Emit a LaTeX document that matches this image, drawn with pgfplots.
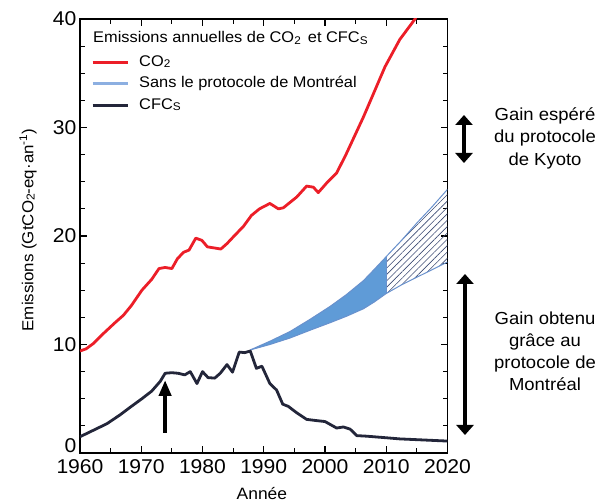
\documentclass[border=0pt]{standalone}
\usepackage{fontspec}
\setmainfont{Liberation Sans}[FakeStretch=1.06]
\usepackage{graphicx}
\usepackage{pgfplots}
\pgfplotsset{compat=1.18}
\usetikzlibrary{arrows.meta,patterns.meta}

\definecolor{co2red}{RGB}{236,30,40}
\definecolor{cfcnavy}{RGB}{35,38,58}
\definecolor{bandblue}{RGB}{95,155,215}
\definecolor{bandline}{RGB}{105,145,205}
\definecolor{legblue}{RGB}{140,175,225}
\definecolor{hatchc}{RGB}{60,75,115}

\newcommand\sub[1]{\raisebox{-0.15ex}{\scalebox{0.72}{#1}}}

\begin{document}
\begin{tikzpicture}
\begin{axis}[
 scale only axis, width=367.5bp, height=434bp,
 xmin=1960, xmax=2020, ymin=0, ymax=40,
 xtick={1960,1970,...,2020}, ytick={0,10,20,30,40},
 yticklabels={\raisebox{1bp}[0pt][0pt]{0},10,20,30,40},
 minor x tick num=1, minor y tick num=3,
 tick align=inside,
 major tick length=7bp, minor tick length=5bp,
 every tick/.style={line width=1.2bp, black},
 axis line style={line width=1.5bp, black},
 /pgf/number format/assume math mode=true,
 /pgf/number format/1000 sep={},
 ticklabel style={font=\fontsize{20}{22}\selectfont},
 xticklabel style={yshift=-3bp},
 xlabel={Année},
 ylabel={Emissions (GtCO\sub{2}-eq·an\textsuperscript{-1})},
 xlabel style={font=\fontsize{16.5}{18}\selectfont, at={(axis description cs:0.495,-0.094)}, anchor=center},
 ylabel style={font=\fontsize{16}{18}\selectfont, at={(axis description cs:-0.1415,0.514)}, anchor=center},
 legend image code/.code={\draw[#1] (0bp,0bp) -- (35bp,0bp);},
 legend cell align=left,
 legend style={at={(rel axis cs:0.030,0.922)}, anchor=north west, draw=none, fill=none,
   inner sep=0pt, column sep=8bp, row sep=3bp,
   font=\fontsize{15.5}{17}\selectfont,
   nodes={inner sep=2bp, text height=11bp, text depth=3.5bp}},
]
% solid band (without Montreal protocol), 1987.8-2010
\addplot[forget plot, draw=none, fill=bandblue] coordinates {
 (1987.8,9.5) (1991,10.3) (1994.3,11.2) (1997.5,12.3) (2000.8,13.5) (2003.5,14.6) (2006.3,15.9) (2008,16.9) (2010,18.1)
 (2010,14.7) (2008,13.9) (2006.3,13.3) (2003.5,12.6) (2000.8,12.0) (1997.5,11.3) (1994.3,10.6) (1991,10.0) (1987.8,9.5)
} -- cycle;
% hatched band 2010-2020
\addplot[forget plot, draw=none, pattern={Lines[angle=45,distance=4.5bp,line width=0.6bp]}, pattern color=hatchc] coordinates {
 (2010,18.1) (2012.5,19.6) (2015,21.2) (2017.5,22.7) (2020,24.3)
 (2020,17.6) (2017.5,16.9) (2015,16.2) (2012.5,15.5) (2010,14.7)
} -- cycle;
% band outlines
\addplot[forget plot, bandline, line width=1bp] coordinates {
 (1987.8,9.5) (1991,10.3) (1994.3,11.2) (1997.5,12.3) (2000.8,13.5) (2003.5,14.6) (2006.3,15.9) (2008,16.9) (2010,18.1) (2012.5,19.6) (2015,21.2) (2017.5,22.7) (2020,24.3)};
\addplot[forget plot, bandline, line width=1bp] coordinates {
 (1987.8,9.5) (1991,10.0) (1994.3,10.6) (1997.5,11.3) (2000.8,12.0) (2003.5,12.6) (2006.3,13.3) (2008,13.9) (2010,14.7) (2012.5,15.5) (2015,16.2) (2017.5,16.9) (2020,17.6)};
\addplot[forget plot, bandline, line width=1bp] coordinates {(2010,14.7) (2010,18.1)};
% CO2
\addplot[forget plot, co2red, line width=2.8bp, line join=round] coordinates {
 (1960,9.4) (1961,9.6) (1962.2,10.1) (1963.8,11.0) (1965.7,12.0) (1967.1,12.7) (1968.4,13.6) (1970.1,15.0)
 (1971.7,16.0) (1972.9,17.0) (1973.9,17.1) (1975.0,17.0) (1975.9,17.9) (1976.9,18.5) (1977.8,18.7) (1978.9,19.8)
 (1979.9,19.6) (1980.8,19.0) (1981.9,18.9) (1983.0,18.8) (1984.0,19.3) (1985.0,19.9) (1986.7,20.9) (1988.0,21.9)
 (1989.3,22.5) (1991.0,23.0) (1992.4,22.5) (1993.2,22.6) (1995.4,23.6) (1997.0,24.6) (1998.1,24.5) (1998.9,24.0)
 (2000.3,24.9) (2001.9,25.8) (2003.5,27.6) (2006.3,31.0) (2009.8,35.6) (2012.2,38.1) (2014.7,40.0) (2016,41.5)};
% CFCs
\addplot[forget plot, cfcnavy, line width=2.8bp, line join=round] coordinates {
 (1960,1.5) (1962.2,2.1) (1964.4,2.7) (1966.5,3.5) (1968.4,4.3) (1970.1,5.0) (1971.7,5.7) (1973.1,6.6)
 (1973.9,7.35) (1975.0,7.4) (1976.0,7.35) (1977.1,7.2) (1978.0,7.5) (1979.1,6.4) (1980.0,7.5) (1980.9,6.95)
 (1982.0,6.9) (1982.9,7.35) (1984.0,8.15) (1984.9,7.45) (1986.0,9.3) (1986.9,9.25) (1987.8,9.4) (1988.8,7.8)
 (1989.7,8.0) (1991.0,6.4) (1992.1,5.8) (1993.1,4.5) (1994.0,4.3) (1995.4,3.7) (1997.0,3.1) (1998.4,3.0)
 (2000.0,2.9) (2001.9,2.3) (2003.0,2.4) (2004.1,2.2) (2005.2,1.6) (2006.8,1.55) (2010.1,1.4) (2012.2,1.3) (2020,1.1)};
\addlegendimage{co2red, line width=3bp}
\addlegendentry{CO\sub{2}}
\addlegendimage{legblue, line width=3bp}
\addlegendentry{Sans le protocole de Montréal}
\addlegendimage{cfcnavy, line width=3bp}
\addlegendentry{CFC\sub{S}}
\end{axis}
% legend title
\node[anchor=west, inner sep=0pt, font=\fontsize{15.5}{17}\selectfont] at (13bp,415bp)
  {Emissions annuelles de CO\sub{2}\, et CFC\sub{S}};
% arrow at 1974
\draw[line width=4bp, -{Triangle[width=12bp,length=16bp]}] (85.1bp,20bp) -- (85.1bp,73bp);
% Kyoto arrow
\draw[line width=3.3bp, {Triangle[width=17bp,length=10bp]}-{Triangle[width=17bp,length=10bp]}] (384bp,290bp) -- (384bp,338bp);
\node[align=center, font=\fontsize{17.5}{22.5}\selectfont] at (465bp,315bp) {Gain espéré\\du protocole\\de Kyoto};
% Montreal arrow
\draw[line width=3.3bp, {Triangle[width=17bp,length=10bp]}-{Triangle[width=17bp,length=10bp]}] (385bp,18bp) -- (385bp,179bp);
\node[align=center, font=\fontsize{17.5}{22}\selectfont] at (465bp,102bp) {Gain obtenu\\grâce au\\protocole de\\Montréal};
\pgfresetboundingbox
\path[use as bounding box] (-80bp,-49bp) rectangle (526bp,453bp);
\end{tikzpicture}
\end{document}
